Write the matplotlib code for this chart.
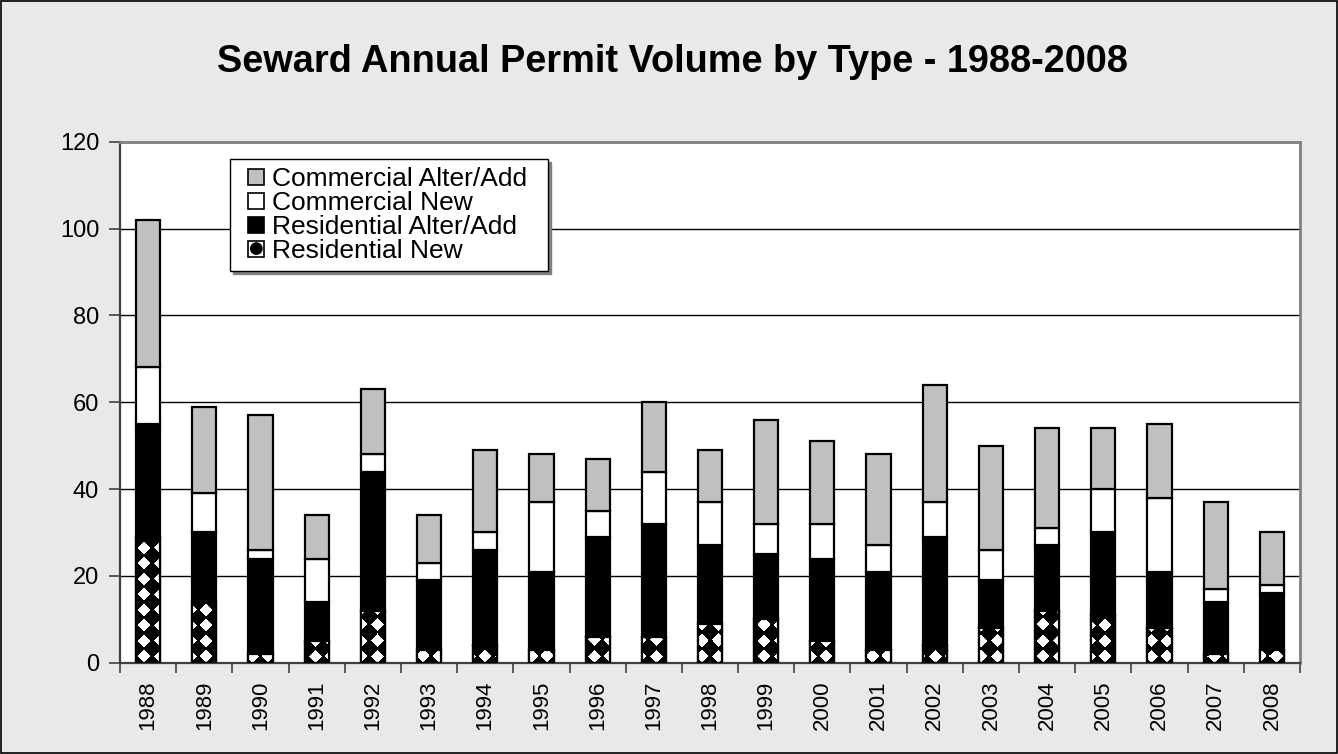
import numpy as np
import matplotlib
matplotlib.use("Agg")
import matplotlib.pyplot as plt
from matplotlib.patches import Patch, Rectangle, Circle

plt.rcParams['font.family'] = ['Liberation Sans', 'DejaVu Sans']

years = [str(y) for y in range(1988, 2009)]
residential_new = [29, 14, 2, 5, 12, 3, 4, 3, 6, 6, 9, 10, 5, 3, 4, 8, 12, 11, 8, 2, 3]
residential_alter = [26, 16, 22, 9, 32, 16, 22, 18, 23, 26, 18, 15, 19, 18, 25, 11, 15, 19, 13, 12, 13]
commercial_new = [13, 9, 2, 10, 4, 4, 4, 16, 6, 12, 10, 7, 8, 6, 8, 7, 4, 10, 17, 3, 2]
commercial_alter = [34, 20, 31, 10, 15, 11, 19, 11, 12, 16, 12, 24, 19, 21, 27, 24, 23, 14, 17, 20, 12]

W, H = 1338, 754
fig = plt.figure(figsize=(W / 100, H / 100), dpi=100)
fig.patch.set_facecolor('#E9E9E9')
fig.patches.append(Rectangle((0.0005, 0.001), 0.999, 0.998, transform=fig.transFigure,
                             fill=False, edgecolor='black', linewidth=1.2))

# plot area in pixels
L, R, T, B = 120, 1300, 141.7, 662.7
ax = fig.add_axes([L / W, (H - B) / H, (R - L) / W, (B - T) / H])
ax.set_facecolor('white')

x = np.arange(len(years))
bw = 0.43
edge_kw = dict(edgecolor='black', linewidth=1.6)

rn = np.array(residential_new)
ra = np.array(residential_alter)
cn = np.array(commercial_new)
ca = np.array(commercial_alter)

ax.set_axisbelow(True)
ax.yaxis.grid(True, color='black', linewidth=1.0)

bars_rn = ax.bar(x, rn, bw, color='black', zorder=2, **edge_kw)
ax.bar(x, ra, bw, bottom=rn, color='black', zorder=2, **edge_kw)
ax.bar(x, cn, bw, bottom=rn + ra, color='white', zorder=2, **edge_kw)
ax.bar(x, ca, bw, bottom=rn + ra + cn, color='#C0C0C0', zorder=2, **edge_kw)

# diamond texture for the Residential New segments
aw, ah = int(R - L), int(round(B - T))
jj, ii = np.meshgrid(np.arange(aw), np.arange(ah))
px = L + jj + 0.5
py = T + ii + 0.5
P = 15.5
dx = np.mod(px - 144 + P / 2, P) - P / 2
dy = np.mod(py - 656 + P / 2, P) - P / 2
texture = (np.abs(dx) + np.abs(dy) < 6.5).astype(float)
for b in bars_rn:
    im = ax.imshow(texture, extent=(-0.5, len(years) - 0.5, 0, 120), origin='upper',
                   cmap='gray', vmin=0, vmax=1, aspect='auto', interpolation='nearest',
                   zorder=2.5)
    im.set_clip_path(b)
ax.bar(x, rn, bw, fill=False, zorder=3, **edge_kw)

ax.set_xlim(-0.5, len(years) - 0.5)
ax.set_ylim(0, 120)
ax.set_yticks(range(0, 121, 20))
ax.tick_params(axis='y', labelsize=17, length=8, width=1.2, pad=7, color='#404040')

ax.set_xticks(x)
ax.set_xticklabels(years, rotation=90, fontsize=16)
ax.tick_params(axis='x', length=0, pad=13)
ax.set_xticks(np.arange(-0.5, len(years), 1), minor=True)
ax.tick_params(axis='x', which='minor', length=7, width=1.2, color='#404040')

for s in ('top', 'right'):
    ax.spines[s].set_color('#808080')
    ax.spines[s].set_linewidth(2)
for s in ('left', 'bottom'):
    ax.spines[s].set_color('#404040')
    ax.spines[s].set_linewidth(1.6)

fig.text(672 / W, 1 - 72 / H, 'Seward Annual Permit Volume by Type - 1988-2008',
         ha='center', va='baseline', fontsize=27.3, fontweight='bold')


class SwatchHandler:
    """Square swatch at the right end of the handle area; optional dot for the patterned series."""

    def legend_artist(self, legend, orig_handle, fontsize, handlebox):
        x0, y0 = handlebox.xdescent, handlebox.ydescent
        w, h = handlebox.width, handlebox.height
        s = h
        left = w - s - x0
        rect = Rectangle((left, -y0), s, s, facecolor=orig_handle.get_facecolor(),
                         edgecolor='black', linewidth=1.2,
                         transform=handlebox.get_transform())
        handlebox.add_artist(rect)
        if orig_handle.get_label() == 'pattern':
            dot = Circle((left + s / 2, -y0 + s / 2), radius=s * 0.4, facecolor='black',
                         edgecolor='none', transform=handlebox.get_transform())
            handlebox.add_artist(dot)
        return rect


handles = [
    Patch(facecolor='#C0C0C0'),
    Patch(facecolor='white'),
    Patch(facecolor='black'),
    Patch(facecolor='white', label='pattern'),
]
labels = ['Commercial Alter/Add', 'Commercial New', 'Residential Alter/Add', 'Residential New']
leg = fig.legend(handles, labels, loc='upper left', mode='expand',
                 bbox_to_anchor=(230 / W, 1 - 266 / H, (548 - 230) / W, (266 - 159) / H),
                 bbox_transform=fig.transFigure,
                 fontsize=19, frameon=True, fancybox=False, edgecolor='black',
                 framealpha=1, borderpad=0.3, labelspacing=0.0,
                 handlelength=1.0, handleheight=0.55, handletextpad=0.3,
                 borderaxespad=0, handler_map={Patch: SwatchHandler()},
                 shadow={'color': '#808080', 'alpha': 1})
leg.get_frame().set_linewidth(1.0)

fig.savefig('out.png', dpi=100, facecolor=fig.get_facecolor())
